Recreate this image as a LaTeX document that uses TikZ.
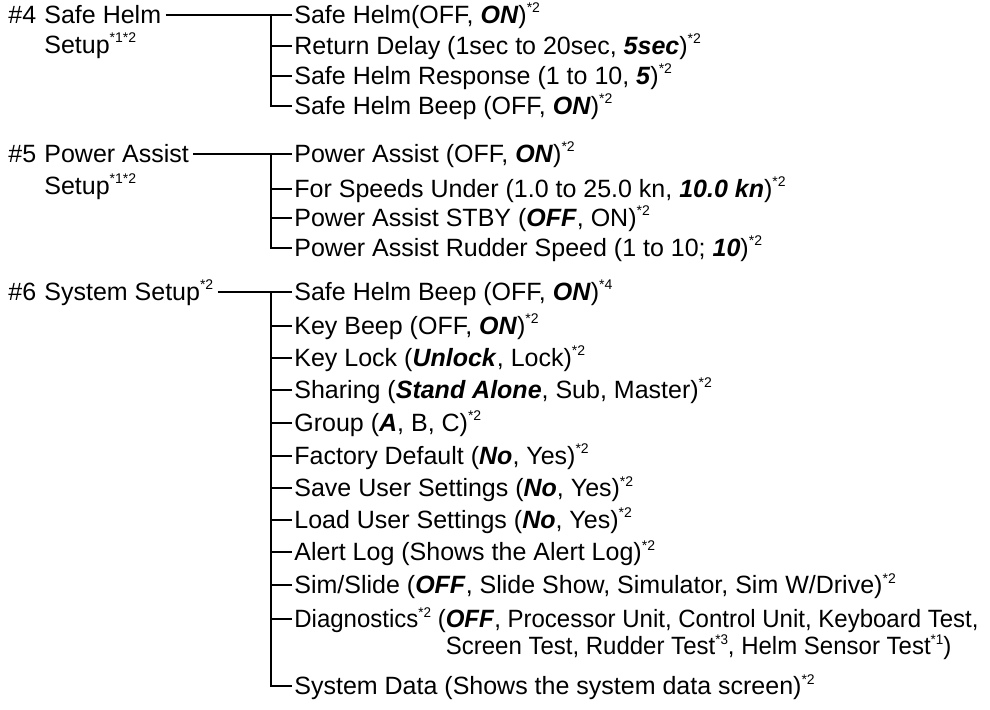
\documentclass[tikz,border=0pt]{standalone}
\usepackage{fontspec}
\setmainfont{Liberation Sans}
\newfontfamily\narrowfont[FakeStretch=0.96]{Liberation Sans}
\usetikzlibrary{positioning}
\newcommand{\starnote}[1]{\raisebox{0.42em}{\fontsize{7}{8}\selectfont*#1}}
\newcommand{\bival}[1]{\textbf{\textit{#1}}}

\begin{document}
\begin{tikzpicture}[
  x=0.5pt, y=-0.5pt, font=\fontsize{12.5}{14}\selectfont,
  num/.style={anchor=west,inner sep=1pt,text height=9pt,text depth=0.5pt},
  head/.style={anchor=west,inner sep=2pt,text height=9pt,text depth=0.5pt},
  item/.style={anchor=west,inner sep=1pt,text height=9pt,text depth=0.5pt},
  link/.style={line width=0.65pt},
]
\useasboundingbox (0,0) rectangle (990,710);
% #4 safe helm setup
\node[num]  (n4) at (6,15)  {\#4};
\node[head] (h4) at (40,15) {Safe Helm};
\node[head] (s4) at (40,45) {Setup\starnote1\starnote2};
\node[item] (a1) at (292,15)  {Safe Helm(OFF, \bival{ON})\starnote2};
\node[item] (a2) at (292,46)  {Return Delay (1sec to 20sec, \bival{5sec})\starnote2};
\node[item] (a3) at (292,76)  {Safe Helm Response (1 to 10, \bival{5})\starnote2};
\node[item] (a4) at (292,106) {Safe Helm Beep (OFF, \bival{ON})\starnote2};
\coordinate (t4) at (271,15);
\draw[link] (h4.east) -- (a1.west);
\foreach \i in {2,3,4}
  \draw[link] (t4) |- (a\i.west);
% #5 power assist setup
\node[num]  (n5) at (6,154)  {\#5};
\node[head] (h5) at (40,154) {Power Assist};
\node[head] (s5) at (40,186) {Setup\starnote1\starnote2};
\node[item] (b1) at (292,154) {Power Assist (OFF, \bival{ON})\starnote2};
\node[item] (b2) at (292,189) {For Speeds Under (1.0 to 25.0 kn, \bival{10.0 kn})\starnote2};
\node[item] (b3) at (292,218) {Power Assist STBY (\bival{OFF}, ON)\starnote2};
\node[item] (b4) at (292,248) {Power Assist Rudder Speed (1 to 10; \bival{10})\starnote2};
\coordinate (t5) at (271,154);
\draw[link] (h5.east) -- (b1.west);
\foreach \i in {2,3,4}
  \draw[link] (t5) |- (b\i.west);
% #6 system setup
\node[num]  (n6) at (6,292)  {\#6};
\node[head] (h6) at (40,292) {System Setup\starnote2};
\node[item] (c1)  at (292,292) {Safe Helm Beep (OFF, \bival{ON})\starnote4};
\node[item] (c2)  at (292,326) {Key Beep (OFF, \bival{ON})\starnote2};
\node[item] (c3)  at (292,358) {Key Lock (\bival{Unlock}, Lock)\starnote2};
\node[item] (c4)  at (292,390) {Sharing (\bival{Stand Alone}, Sub, Master)\starnote2};
\node[item] (c5)  at (292,423) {Group (\bival{A}, B, C)\starnote2};
\node[item] (c6)  at (292,456) {Factory Default (\bival{No}, Yes)\starnote2};
\node[item] (c7)  at (292,488) {Save User Settings (\bival{No}, Yes)\starnote2};
\node[item] (c8)  at (292,520) {Load User Settings (\bival{No}, Yes)\starnote2};
\node[item] (c9)  at (292,552) {Alert Log (Shows the Alert Log)\starnote2};
\node[item] (c10) at (292,585) {Sim/Slide (\bival{OFF}, Slide Show, Simulator, Sim W/Drive)\starnote2};
\node[item] (c11) at (292,619) {\narrowfont Diagnostics\starnote2 (\bival{OFF}, Processor Unit, Control Unit, Keyboard Test,};
\node[item] (c11x) at (292,646) {\narrowfont\hphantom{Diagnostics\starnote2\ (}Screen Test, Rudder Test\starnote3, Helm Sensor Test\starnote1)};
\node[item] (c12) at (292,686) {System Data (Shows the system data screen)\starnote2};
\coordinate (t6) at (271,292);
\draw[link] (h6.east) -- (c1.west);
\foreach \i in {2,...,12}
  \draw[link] (t6) |- (c\i.west);
\end{tikzpicture}
\end{document}
